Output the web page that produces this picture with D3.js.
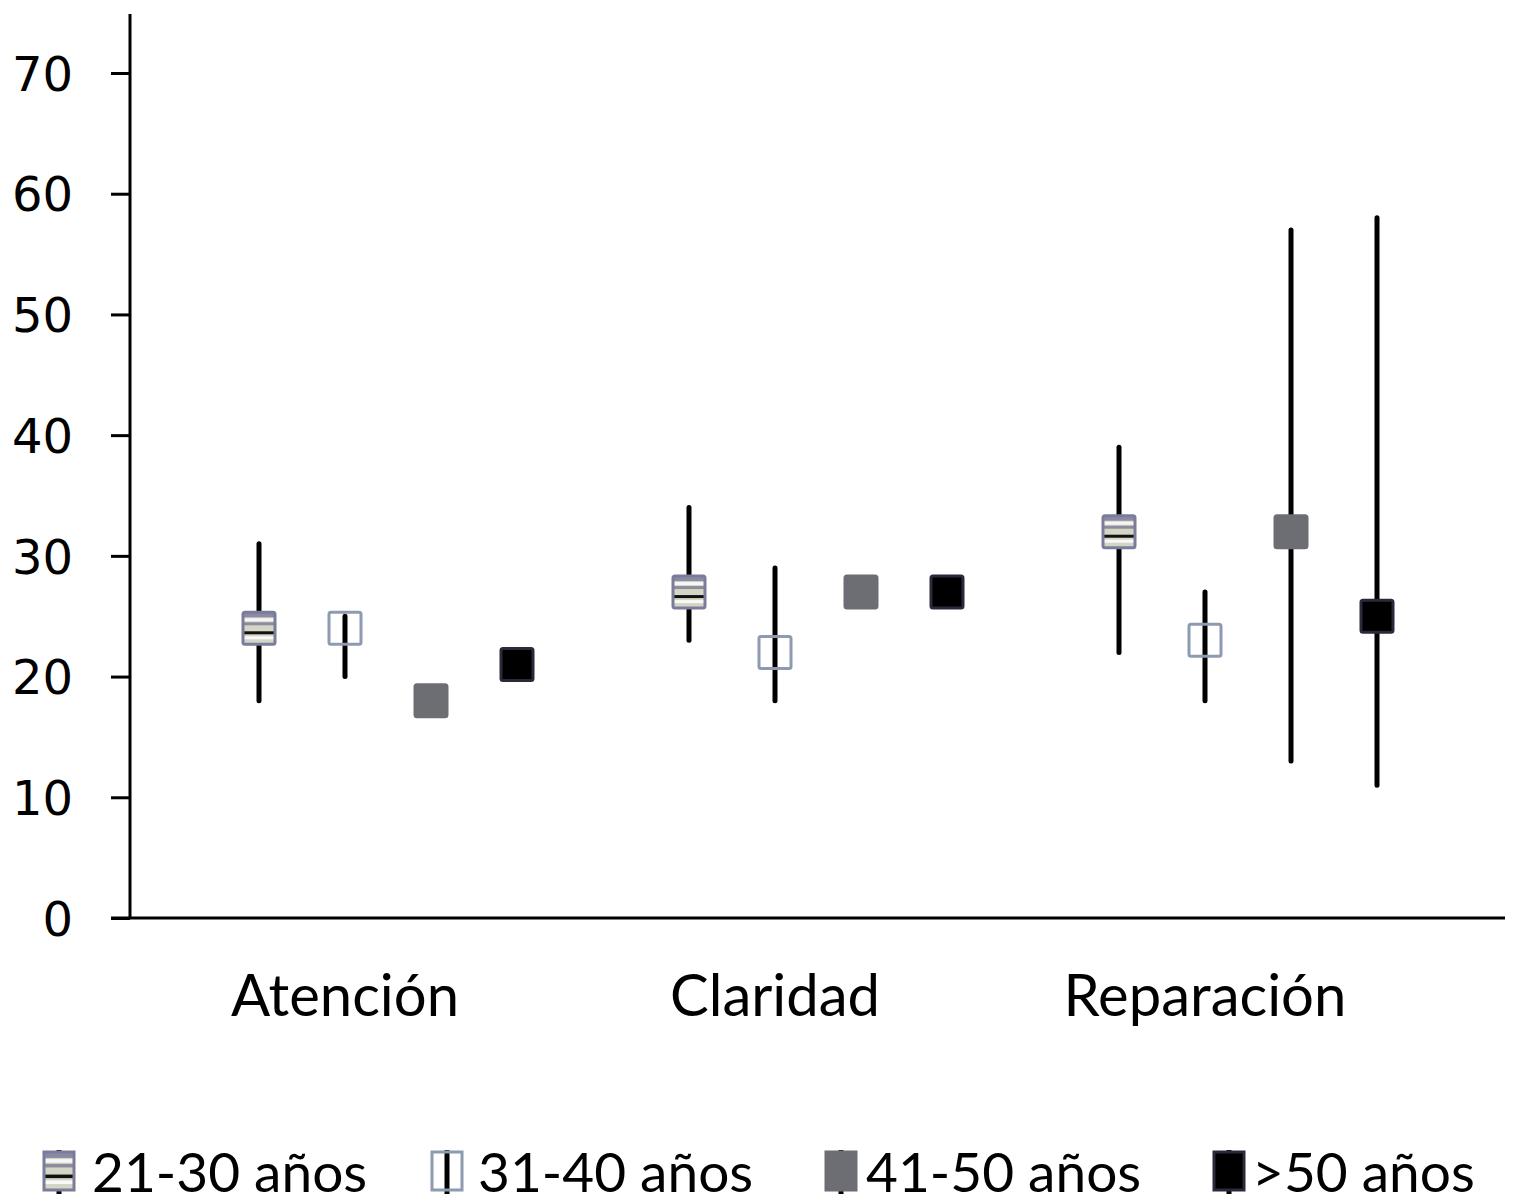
<!DOCTYPE html>
<html>
<head>
<meta charset="utf-8">
<script src="https://cdn.jsdelivr.net/npm/d3@7"></script>
<style>
body { margin: 0; background: #fff; }
svg { display: block; }
</style>
</head>
<body>
<svg id="chart" width="1516" height="1203"></svg>
<script>
// data
var categories = ["Atención", "Claridad", "Reparación"];
var series = ["21-30 años", "31-40 años", "41-50 años", ">50 años"];
var yTicks = [0, 10, 20, 30, 40, 50, 60, 70];

// means per series, one value per category
var mean2130 = [24, 27, 32];
var mean3140 = [24, 22, 23];
var mean4150 = [18, 27, 32];
var mean50 = [21, 27, 25];

// error bar low / high (null = no bar)
var low2130 = [18, 23, 22];
var high2130 = [31, 34, 39];
var low3140 = [20, 18, 18];
var high3140 = [25, 29, 27];
var low4150 = [null, null, 13];
var high4150 = [null, null, 57];
var low50 = [null, null, 11];
var high50 = [null, null, 58];

var means = [mean2130, mean3140, mean4150, mean50];
var lows = [low2130, low3140, low4150, low50];
var highs = [high2130, high3140, high4150, high50];

var svg = d3.select("#chart");

var x0 = d3.scaleBand().domain(categories).range([130, 1420]);
var x1 = d3.scalePoint().domain(series).range([x0.bandwidth() * 0.3, x0.bandwidth() * 0.9]);
var y = d3.scaleLinear().domain([0, 70]).range([918, 73]);

var defs = svg.append("defs");

// striped fill used by the 21-30 marker
function stripes(id, px, py, h) {
    var p = defs.append("pattern")
        .attr("id", id)
        .attr("patternUnits", "userSpaceOnUse")
        .attr("x", px).attr("y", py)
        .attr("width", 40).attr("height", h);
    var k = h / 32;
    p.append("rect").attr("width", 40).attr("height", h).attr("fill", "#d3d6c4");
    p.append("rect").attr("y", 0).attr("width", 40).attr("height", 5 * k).attr("fill", "#8a8aa6");
    p.append("rect").attr("y", 6 * k).attr("width", 40).attr("height", 3 * k).attr("fill", "#f6f6f6");
    p.append("rect").attr("y", 10 * k).attr("width", 40).attr("height", 3 * k).attr("fill", "#8f8a9c");
    p.append("rect").attr("y", 19 * k).attr("width", 40).attr("height", 3 * k).attr("fill", "#111");
    p.append("rect").attr("y", 24 * k).attr("width", 40).attr("height", 3 * k).attr("fill", "#f8f8f8");
    return "url(#" + id + ")";
}

var markerStyle = [
    { fill: "#d3d6c4", stroke: "#7a7c9a" },
    { fill: "none", stroke: "#8d9aaf" },
    { fill: "#6d6d74", stroke: "#6d6d74" },
    { fill: "#000", stroke: "#2a2a3a" }
];

// axes
var yAxis = svg.append("g")
    .attr("transform", "translate(130,0)")
    .call(d3.axisLeft(y).tickValues(yTicks).tickSize(19).tickPadding(38));
yAxis.select(".domain").remove();
yAxis.selectAll(".tick line").attr("stroke", "#000").attr("stroke-width", 3);
yAxis.selectAll(".tick text")
    .attr("font-family", "DejaVu Sans")
    .attr("font-size", 48)
    .attr("fill", "#000")
    .attr("dy", "0.36em");

svg.append("line").attr("x1", 130).attr("x2", 130).attr("y1", 14).attr("y2", y(0))
    .attr("stroke", "#000").attr("stroke-width", 3);
svg.append("line").attr("x1", 111).attr("x2", 1505).attr("y1", y(0)).attr("y2", y(0))
    .attr("stroke", "#000").attr("stroke-width", 3);

// category labels
svg.append("g").selectAll("text")
    .data(categories)
    .join("text")
    .attr("x", function (d) { return x0(d) + x0.bandwidth() / 2; })
    .attr("y", 1016)
    .attr("text-anchor", "middle")
    .attr("font-family", "Lato")
    .attr("font-size", 58)
    .attr("fill", "#000")
    .text(function (d) { return d; });

// error bars first
var ms = 32;
series.forEach(function (s, si) {
    var g = svg.append("g");
    categories.forEach(function (c, ci) {
        var cx = x0(c) + x1(s);
        if (lows[si][ci] != null) {
            g.append("line")
                .attr("x1", cx).attr("x2", cx)
                .attr("y1", y(lows[si][ci])).attr("y2", y(highs[si][ci]))
                .attr("stroke", "#000").attr("stroke-width", 5).attr("stroke-linecap", "round");
        }
    });
});

// then markers
series.forEach(function (s, si) {
    var g = svg.append("g");
    categories.forEach(function (c, ci) {
        var cx = x0(c) + x1(s);
        var cy = y(means[si][ci]);
        var fill = markerStyle[si].fill;
        if (si === 0) fill = stripes("st" + ci, cx - ms / 2, cy - ms / 2, ms);
        g.append("rect")
            .attr("x", cx - ms / 2).attr("y", cy - ms / 2)
            .attr("width", ms).attr("height", ms)
            .attr("rx", 2)
            .attr("fill", fill)
            .attr("stroke", markerStyle[si].stroke)
            .attr("stroke-width", 3);
    });
});

// legend
var legendX = [44, 432, 826, 1214];
var legendTextX = [92, 478, 866, 1252];
var legend = svg.append("g");
series.forEach(function (s, si) {
    var lx = legendX[si];
    var cy = 1171;
    legend.append("line")
        .attr("x1", lx + 15).attr("x2", lx + 15)
        .attr("y1", cy - 21).attr("y2", cy + 23)
        .attr("stroke", "#000").attr("stroke-width", 5);
    var fill = markerStyle[si].fill;
    if (si === 0) fill = stripes("stLegend", lx, cy - 19, 38);
    legend.append("rect")
        .attr("x", lx).attr("y", cy - 19)
        .attr("width", 30).attr("height", 38)
        .attr("fill", fill)
        .attr("stroke", markerStyle[si].stroke)
        .attr("stroke-width", 3);
    legend.append("text")
        .attr("x", legendTextX[si])
        .attr("y", cy + 21)
        .attr("font-family", "Lato")
        .attr("font-size", 55)
        .attr("fill", "#000")
        .text(s);
});
</script>
</body>
</html>
